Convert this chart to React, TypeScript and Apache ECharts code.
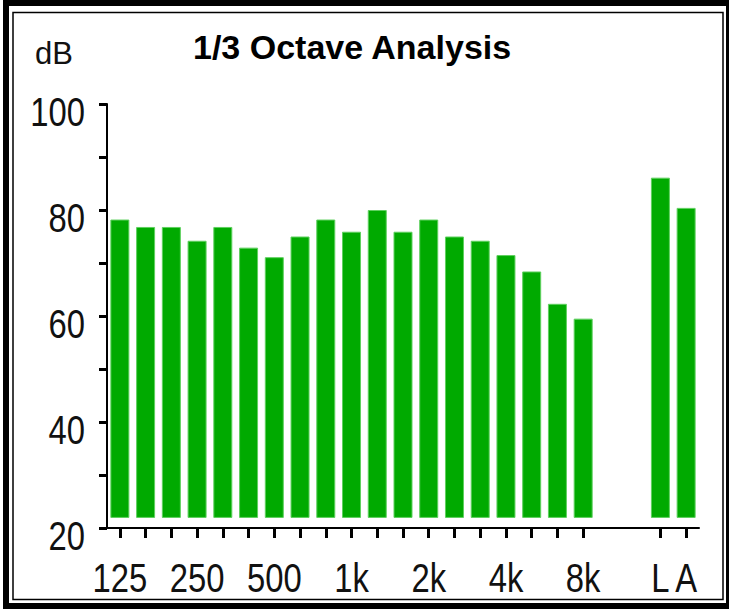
import React, { useEffect, useRef } from "react";
import * as echarts from "echarts";

const CATEGORIES = ["125","160","200","250","315","400","500","630","800","1k","1.25k","1.6k","2k","2.5k","3.15k","4k","5k","6.3k","8k","gap1","gap2","L","A"];
const LABEL_SHOWN = ["125","250","500","1k","2k","4k","8k","L","A"];
const VALUES: (number | null)[] = [78.2,76.8,76.8,74.2,76.8,72.9,71.1,75.0,78.2,75.9,80.0,75.9,78.2,75.0,74.2,71.5,68.4,62.3,59.5,null,null,86.1,80.4];
const BAR_FLOOR = 21.9;
const Y_MIN = 20;
const Y_MAX = 100;
const Y_STEP = 10;
const Y_LABELS = [20, 40, 60, 80, 100];
const TITLE = "1/3 Octave Analysis";
const UNIT = "dB";

const SANS = "'Liberation Sans', Arial, sans-serif";

export default function App() {
  const ref = useRef<HTMLDivElement>(null);
  useEffect(() => {
    if (!ref.current) return;
    const chart = echarts.init(ref.current, undefined, { renderer: "svg" });
    const base = VALUES.map((v) => (v == null ? "-" : BAR_FLOOR));
    const top = VALUES.map((v) => (v == null ? "-" : +(v - BAR_FLOOR).toFixed(2)));
    chart.setOption({
      animation: false,
      backgroundColor: "#fff",
      grid: { left: 107, right: 30, top: 104, bottom: 82, containLabel: false },
      xAxis: {
        type: "category",
        data: CATEGORIES,
        boundaryGap: true,
        axisLine: { show: true, lineStyle: { color: "#000", width: 2 } },
        axisTick: {
          show: true,
          alignWithLabel: true,
          length: 10,
          interval: (i: number, v: string) => !v.startsWith("gap"),
          lineStyle: { color: "#000", width: 3 },
        },
        axisLabel: { show: false },
        splitLine: { show: false },
      },
      yAxis: {
        type: "value",
        min: Y_MIN,
        max: Y_MAX,
        interval: Y_STEP,
        axisLine: { show: true, lineStyle: { color: "#000", width: 2 } },
        axisTick: { show: true, length: 8, lineStyle: { color: "#000", width: 3 } },
        axisLabel: { show: false },
        splitLine: { show: false },
      },
      series: [
        {
          type: "bar",
          stack: "s",
          data: base,
          barWidth: 19,
          silent: true,
          itemStyle: { color: "rgba(0,0,0,0)" },
        },
        {
          type: "bar",
          stack: "s",
          data: top,
          barWidth: 19,
          itemStyle: { color: "#00aa00", borderColor: "#5fd05f", borderWidth: 1 },
        },
      ],
    });

    const labelStyle = { fontFamily: SANS, fontSize: 41, fill: "#111", verticalAlign: "middle" };
    const xLabels = CATEGORIES.filter((c) => LABEL_SHOWN.includes(c)).map((c) => ({
      type: "text",
      x: chart.convertToPixel({ xAxisIndex: 0 }, c) as number,
      y: 578,
      scaleX: 0.8,
      silent: true,
      style: { ...labelStyle, text: c, align: "center" },
    }));
    const yLabels = Y_LABELS.map((v) => ({
      type: "text",
      x: 85,
      y: (chart.convertToPixel({ yAxisIndex: 0 }, v) as number) + 8,
      scaleX: 0.8,
      silent: true,
      style: { ...labelStyle, text: String(v), align: "right" },
    }));

    chart.setOption({
      graphic: [
        {
          type: "rect",
          shape: { x: 6, y: 3, width: 723, height: 603 },
          style: { fill: "none", stroke: "#000", lineWidth: 6 },
          silent: true,
        },
        {
          type: "rect",
          shape: { x: 13, y: 12.5, width: 710, height: 587 },
          style: { fill: "none", stroke: "#000", lineWidth: 1.5 },
          silent: true,
        },
        {
          type: "text",
          x: 35,
          y: 38,
          style: { text: UNIT, fontFamily: SANS, fontSize: 31, fill: "#111", verticalAlign: "top" },
        },
        {
          type: "text",
          x: 193,
          y: 30,
          style: { text: TITLE, fontFamily: SANS, fontSize: 34, fontWeight: "bold", fill: "#000", verticalAlign: "top" },
        },
        ...xLabels,
        ...yLabels,
      ],
    });
    return () => chart.dispose();
  }, []);
  return <div ref={ref} style={{ width: 729, height: 610, position: "absolute", left: 0, top: 0 }} />;
}
